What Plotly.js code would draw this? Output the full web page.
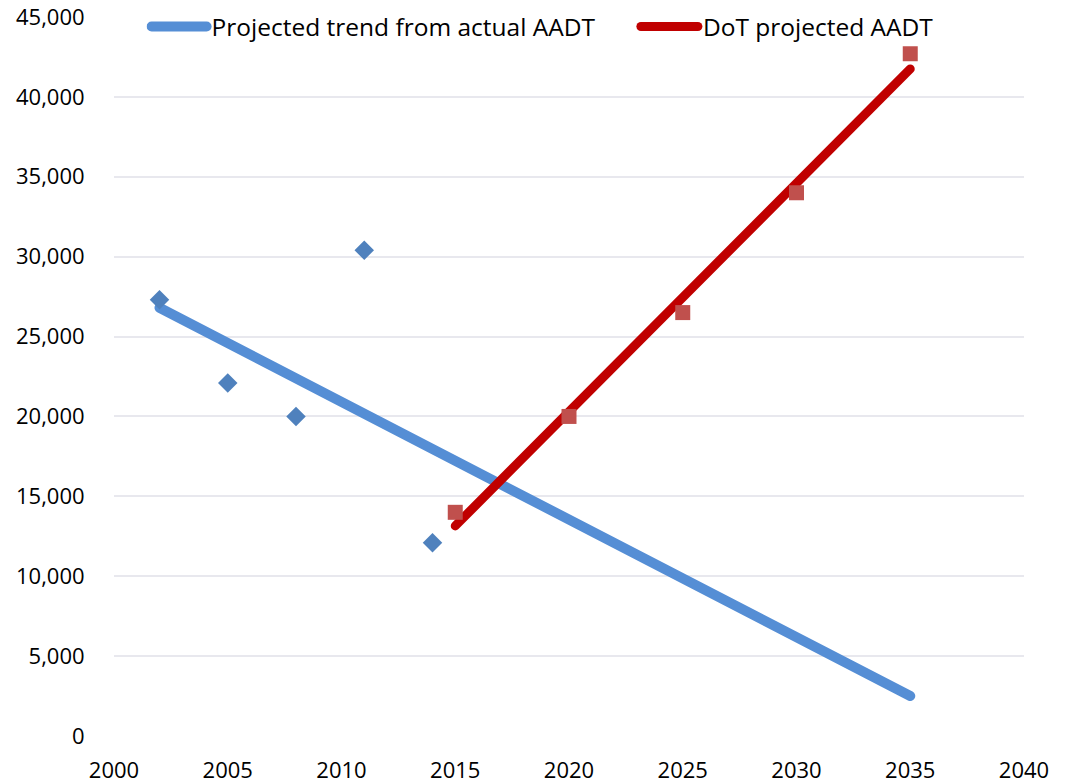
<!DOCTYPE html>
<html>
<head>
<meta charset="utf-8">
<script src="https://cdn.plot.ly/plotly-3.0.1.min.js"></script>
<style>html,body{margin:0;padding:0;background:#fff;}#chart{width:1068px;height:783px;}</style>
</head>
<body>
<div id="chart"></div>
<script>
// Actual AADT observations
const actualYears = [2002, 2005, 2008, 2011, 2014];
const actualAADT = [27300, 22100, 20000, 30400, 12100];
// Projected trend from actual AADT (line end points)
const trendYears = [2002, 2035];
const trendAADT = [26800, 2500];
// DoT projected AADT points
const dotYears = [2015, 2020, 2025, 2030, 2035];
const dotAADT = [14000, 20000, 26500, 34000, 42700];
// DoT projected trend line end points
const dotTrendYears = [2015, 2035];
const dotTrendAADT = [13150, 41750];

const xTicks = [2000, 2005, 2010, 2015, 2020, 2025, 2030, 2035, 2040];
const yTicks = [0, 5000, 10000, 15000, 20000, 25000, 30000, 35000, 40000, 45000];

const FONT = '"Open Sans", "Noto Sans", sans-serif';

const traces = [
  {x: trendYears, y: trendAADT, mode: 'lines', name: 'Projected trend from actual AADT',
   line: {color: '#558ED5', width: 10}, hoverinfo: 'skip', legend: 'legend'},
  {x: dotTrendYears, y: dotTrendAADT, mode: 'lines', name: 'DoT projected AADT',
   line: {color: '#C00000', width: 9}, hoverinfo: 'skip', legend: 'legend2'},
  {x: actualYears, y: actualAADT, mode: 'markers', showlegend: false,
   marker: {symbol: 'diamond', size: 15, color: '#4F81BD'}},
  {x: dotYears, y: dotAADT, mode: 'markers', showlegend: false,
   marker: {symbol: 'square', size: 15, color: '#C0504D'}}
];

const legendBase = {y: 1.018, yanchor: 'top', xanchor: 'left', orientation: 'h',
  font: {family: FONT, size: 24.5, color: '#000'}, bgcolor: 'rgba(0,0,0,0)', borderwidth: 0};

const layout = {
  width: 1068, height: 783,
  margin: {l: 114, r: 44, t: 17, b: 47, autoexpand: false},
  paper_bgcolor: '#fff', plot_bgcolor: '#fff',
  font: {family: FONT, size: 21, color: '#000'},
  showlegend: true,
  legend: Object.assign({}, legendBase, {x: 0.0358, itemwidth: 55}),
  legend2: Object.assign({}, legendBase, {x: 0.5735, itemwidth: 57}),
  xaxis: {range: [2000, 2040], tickvals: xTicks, ticktext: xTicks.map(String),
          showgrid: false, zeroline: false, showline: false,
          ticks: 'outside', ticklen: 15, tickcolor: 'rgba(0,0,0,0)',
          tickfont: {family: FONT, size: 22, color: '#000'}, fixedrange: true},
  yaxis: {range: [0, 45000], tickvals: yTicks,
          ticktext: yTicks.map(v => v.toLocaleString('en-US')),
          showgrid: true, gridcolor: '#E8E8EE', gridwidth: 2, zeroline: false, showline: false,
          ticks: 'outside', ticklen: 24, tickcolor: 'rgba(0,0,0,0)',
          tickfont: {family: FONT, size: 22, color: '#000'}, fixedrange: true}
};

Plotly.newPlot('chart', traces, layout, {displayModeBar: false, staticPlot: true}).then(function (gd) {
  gd.querySelectorAll('.js-line, .legendlines path').forEach(function (p) {
    p.style.strokeLinecap = 'round';
  });
});
</script>
</body>
</html>
